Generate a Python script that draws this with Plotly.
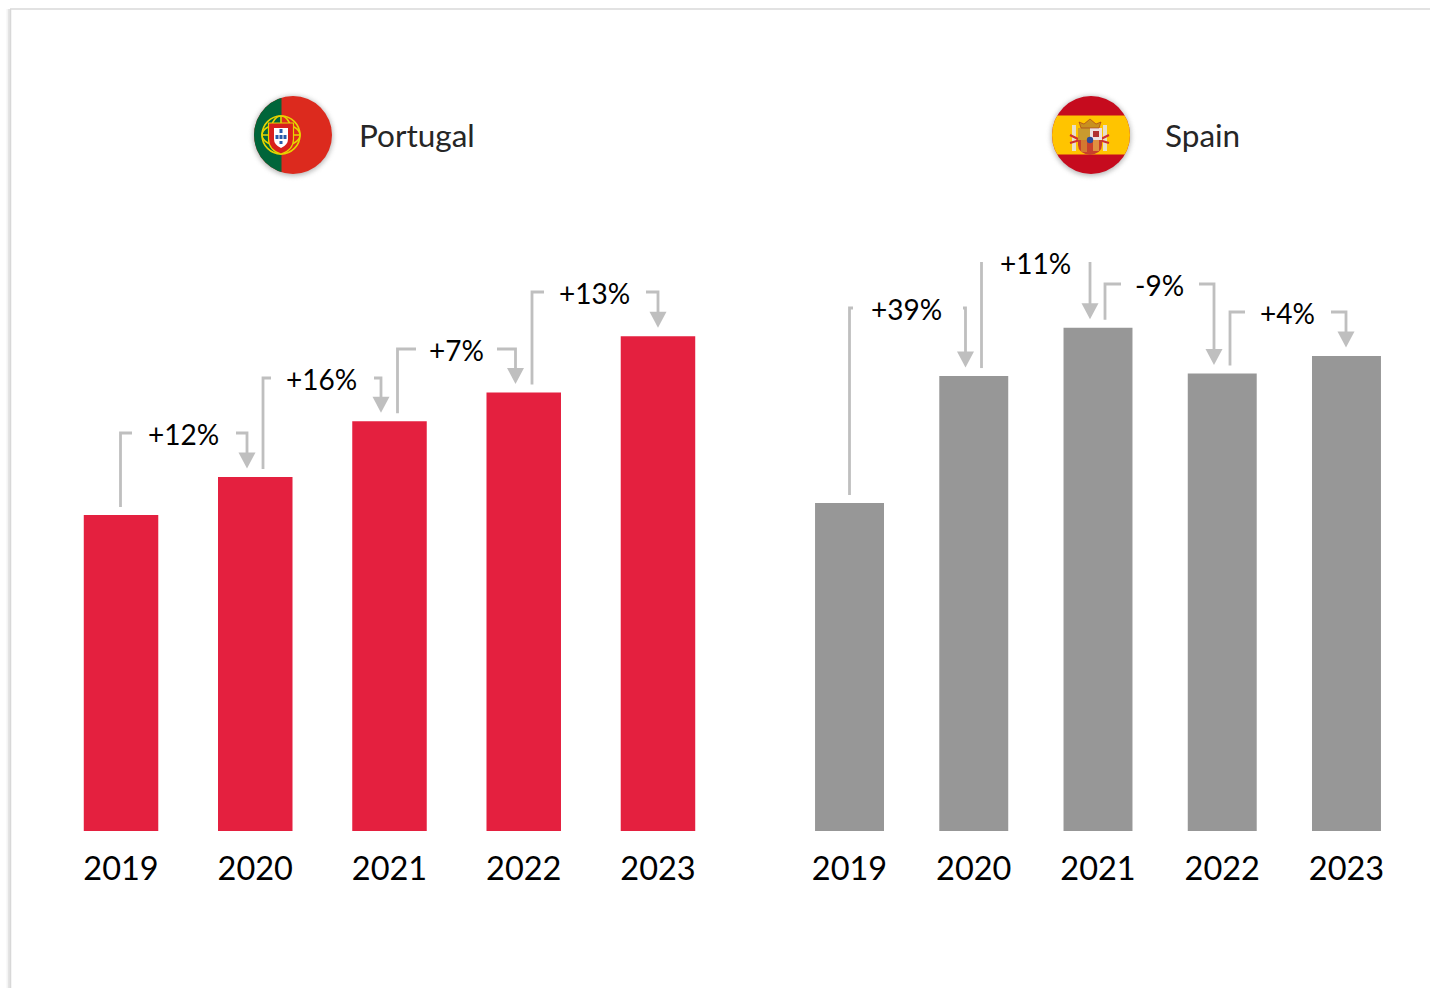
import base64
import plotly.graph_objects as go

YEARS = ["2019", "2020", "2021", "2022", "2023"]
PORTUGAL = [100, 112, 129.7, 138.8, 156.6]
SPAIN = [100, 138.7, 153.4, 139.5, 144.8]
PT_LABELS = ["+12%", "+16%", "+7%", "+13%"]
ES_LABELS = ["+39%", "+11%", "-9%", "+4%"]

W, H = 1430, 988
BASE = 831
PT_SCALE, ES_SCALE = 3.16, 3.28
RED, GREY, CONN, INK = "#e4203f", "#979797", "#bfbfbf", "#000000"


def px(x):
    return x / W


def py(y):
    return 1 - y / H


def top(values, scale, i):
    return BASE - values[i] * scale


# x_start, level, label x, left-stub end, right-stub start, arrow x
PT_CONN = [(120.5, 433, 183, 132, 236, 247),
           (263, 378, 321.5, 271, 374, 381),
           (397.5, 349, 456, 416, 497, 515.5),
           (532, 292, 594, 544, 646, 658)]
ES_CONN = [(849.5, 308, 906.5, 853, 963, 965.5),
           (981.5, 262, 1035.5, None, None, 1090),
           (1105, 284, 1159.5, 1121, 1199, 1214),
           (1230, 312, 1287.5, 1245, 1331, 1346)]

shapes, annotations = [], []


def poly(points, **kw):
    d = "M" + " L".join(f"{px(x):.5f},{py(y):.5f}" for x, y in points)
    shapes.append(dict(type="path", xref="paper", yref="paper", path=d + kw.pop("close", ""), layer="above", **kw))


def connectors(conn, labels, values, scale):
    for i, (x0, lvl, lx, stub, rstub, ax) in enumerate(conn):
        y0 = top(values, scale, i) - 8
        tip = top(values, scale, i + 1) - 9
        line = dict(color=CONN, width=2.8)
        left = [(x0, y0), (x0, lvl)] + ([(stub, lvl)] if stub else [])
        poly(left, line=line)
        right = ([(rstub, lvl)] if rstub else []) + [(ax, lvl), (ax, tip - 14)]
        poly(right, line=line)
        poly([(ax - 8.5, tip - 15.5), (ax + 8.5, tip - 15.5), (ax, tip + 0.5)], close=" Z", fillcolor=CONN, line=dict(width=0))
        annotations.append(dict(x=px(lx), y=py(lvl + 1), xref="paper", yref="paper", text=labels[i], showarrow=False,
                                xanchor="center", yanchor="middle",
                                font=dict(family="Lato", size=28, color=INK)))


connectors(PT_CONN, PT_LABELS, PORTUGAL, PT_SCALE)
connectors(ES_CONN, ES_LABELS, SPAIN, ES_SCALE)

# panel frame with its soft shadow
for x, col, wd in [(7.5, "#f4f4f4", 2), (9, "#e4e4e4", 2), (10.5, "#d8d8d8", 1.5)]:
    shapes.append(dict(type="line", xref="paper", yref="paper", x0=px(x), x1=px(x), y0=py(9), y1=py(H), line=dict(color=col, width=wd), layer="below"))
shapes.append(dict(type="line", xref="paper", yref="paper", x0=px(10), x1=1, y0=py(9), y1=py(9), line=dict(color="#d8d8d8", width=1.5), layer="below"))

SVG_HEAD = ('<svg xmlns="http://www.w3.org/2000/svg" width="100" height="100" viewBox="0 0 100 100">'
            '<defs><filter id="s" x="-30%" y="-30%" width="160%" height="160%"><feGaussianBlur stdDeviation="2.5"/></filter>'
            '<clipPath id="c"><circle cx="50" cy="50" r="39"/></clipPath></defs>'
            '<circle cx="50" cy="51" r="40" fill="#888" opacity="0.6" filter="url(#s)"/>')
PT_SVG = (SVG_HEAD + '<g clip-path="url(#c)"><rect width="100" height="100" fill="#dc2a1e"/>'
          '<rect width="38.5" height="100" fill="#00653a"/>'
          '<g fill="none" stroke="#e6d400" stroke-width="1.6"><circle cx="38" cy="50" r="19"/>'
          '<ellipse cx="38" cy="50" rx="19" ry="11"/><ellipse cx="38" cy="50" rx="11" ry="19"/><path d="M19 50h38M38 31v38"/></g>'
          '<path d="M25.5 38h25v16q0 11-12.500 15q-12.500-4-12.500-15z" fill="#d8201c" stroke="#e6d400" stroke-width="1.200"/>'
          '<path d="M31 43h14v11q0 6-7 9q-7-3-7-9z" fill="#fff"/>'
          '<g fill="#2a5caa"><rect x="36.500" y="44" width="3" height="4"/><rect x="36.500" y="50" width="3" height="4"/>'
          '<rect x="36.500" y="56" width="3" height="3"/><rect x="32.500" y="50" width="3" height="4"/><rect x="40.500" y="50" width="3" height="4"/></g>'
          '</g></svg>')
ES_SVG = (SVG_HEAD + '<g clip-path="url(#c)"><rect width="100" height="100" fill="#c60b1e"/>'
          '<rect y="30.500" width="100" height="39" fill="#ffc400"/>'
          '<rect x="31" y="40" width="4" height="26" fill="#e8e0c8"/><rect x="62" y="40" width="4" height="26" fill="#e8e0c8"/>'
          '<path d="M29 50l10 5M68 50l-10 5M29 58l10-3M68 58l-10-3" stroke="#d03030" stroke-width="2"/>'
          '<path d="M37 43h24v17q0 8-12 10q-12-2-12-10z" fill="#c8402c"/>'
          '<rect x="37" y="43" width="12" height="12" fill="#c99a2e"/><rect x="49" y="43" width="12" height="12" fill="#eee0e0"/>'
          '<rect x="52" y="46" width="6" height="6" fill="#b03030"/>'
          '<rect x="40" y="55" width="6" height="12" fill="#e8c040"/><path d="M41 55v12M43 55v12M45 55v12" stroke="#c03020"/>'
          '<rect x="52" y="55" width="6" height="11" fill="#e09040"/>'
          '<circle cx="49" cy="55" r="3.200" fill="#2a4a9a"/>'
          '<path d="M40 43l-2-6l5 2l6-5l6 5l5-2l-2 6z" fill="#c89020" stroke="#a03020" stroke-width="0.600"/></g></svg>')


def uri(svg):
    return "data:image/svg+xml;base64," + base64.b64encode(svg.encode()).decode()


images = [dict(source=uri(PT_SVG), xref="paper", yref="paper", x=px(243), y=py(85), sizex=100 / W, sizey=100 / H,
               xanchor="left", yanchor="top", sizing="stretch", layer="above"),
          dict(source=uri(ES_SVG), xref="paper", yref="paper", x=px(1041), y=py(85), sizex=100 / W, sizey=100 / H,
               xanchor="left", yanchor="top", sizing="stretch", layer="above")]

for name, x in [("Portugal", 356.5), ("Spain", 1163)]:
    annotations.append(dict(x=px(x), y=py(135), xref="paper", yref="paper", text=name, showarrow=False,
                            xanchor="left", yanchor="middle",
                            font=dict(family="Lato", size=31.5, color="#262626")))

fig = go.Figure()
fig.add_bar(x=YEARS, y=PORTUGAL, marker=dict(color=RED, line=dict(width=0)), xaxis="x", yaxis="y", showlegend=False)
fig.add_bar(x=YEARS, y=SPAIN, marker=dict(color=GREY, line=dict(width=0)), xaxis="x2", yaxis="y2", showlegend=False)

RANGE = 200
xcommon = dict(type="category", showgrid=False, zeroline=False, showline=False, ticks="outside", ticklen=9,
               tickcolor="rgba(0,0,0,0)", tickfont=dict(family="Lato", size=32.5, color=INK))
ycommon = dict(range=[0, RANGE], visible=False, showgrid=False, zeroline=False)

fig.update_layout(
    width=W, height=H, margin=dict(l=0, r=0, t=0, b=0), paper_bgcolor="white", plot_bgcolor="white",
    bargap=0.445, showlegend=False, shapes=shapes, annotations=annotations, images=images,
    xaxis=dict(domain=[px(53.9), px(725.1)], anchor="y", **xcommon),
    xaxis2=dict(domain=[px(787.4), px(1408.6)], anchor="y2", **xcommon),
    yaxis=dict(domain=[py(BASE), py(BASE - RANGE * PT_SCALE)], anchor="x", **ycommon),
    yaxis2=dict(domain=[py(BASE), py(BASE - RANGE * ES_SCALE)], anchor="x2", **ycommon),
)
fig.write_html("out.html", config=dict(displayModeBar=False),
               post_script="document.body.style.margin='0';document.body.style.overflow='hidden';")
